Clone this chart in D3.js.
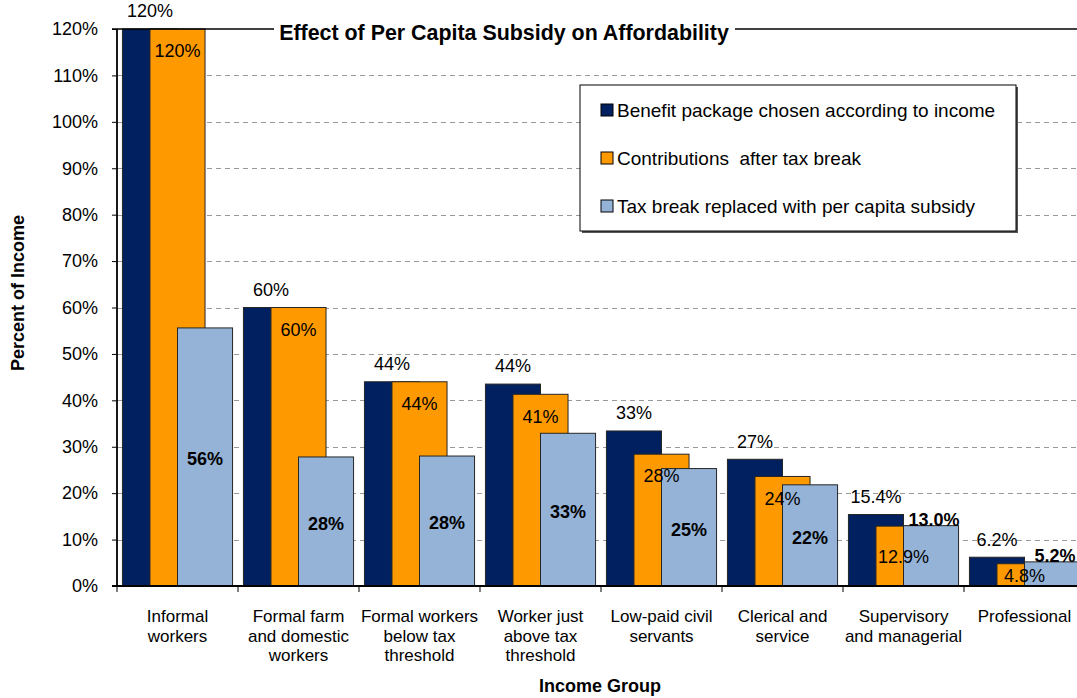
<!DOCTYPE html>
<html>
<head>
<meta charset="utf-8">
<script src="https://cdn.jsdelivr.net/npm/d3@7"></script>
<style>
    body { margin: 0; background: #fff; overflow: hidden; }
    svg text { font-family: "Liberation Sans", Arial, sans-serif; fill: #000; }
</style>
</head>
<body>
<div id="chart"></div>
<script>
/* Data */
var categories = [
    ["Informal", "workers"],
    ["Formal farm", "and domestic", "workers"],
    ["Formal workers", "below tax", "threshold"],
    ["Worker just", "above tax", "threshold"],
    ["Low-paid civil", "servants"],
    ["Clerical and", "service"],
    ["Supervisory", "and managerial"],
    ["Professional"]
];
var seriesNames = [
    "Benefit package chosen according to income",
    "Contributions  after tax break",
    "Tax break replaced with per capita subsidy"
];
var benefitPackage = [120, 60, 44, 43.5, 33.4, 27.3, 15.4, 6.2];
var afterTaxBreak  = [120, 60, 44, 41.3, 28.4, 23.6, 12.9, 4.8];
var perCapita      = [55.6, 27.8, 28, 32.9, 25.3, 21.8, 13.0, 5.2];
var labelDecimals  = [0, 0, 0, 0, 0, 0, 1, 1];
var yTicks = [0, 10, 20, 30, 40, 50, 60, 70, 80, 90, 100, 110, 120];

var colors = ["#002060", "#ff9900", "#95b3d7"];

var width = 1077,
    height = 698,
    margins = {top: 29, left: 117, bottom: 112, right: -8};

var svg = d3.select("#chart")
    .append("svg")
        .attr("width", width)
        .attr("height", height);

/* Scales */
var x = d3.scaleBand()
    .domain(d3.range(categories.length))
    .range([margins.left, width - margins.right]);
var y = d3.scaleLinear()
    .domain([0, 120])
    .range([height - margins.bottom, margins.top]);

var barWidth = x.bandwidth() * 0.455,
    barStep  = barWidth / 2,
    barPad   = (x.bandwidth() - barWidth * 2) / 2;

/* Gridlines */
svg.append("g")
    .selectAll("line")
    .data(yTicks.filter(function(d){ return d > 0 && d < 120; }))
    .enter()
    .append("line")
        .attr("x1", margins.left)
        .attr("x2", width)
        .attr("y1", function(d){ return Math.round(y(d)) + 0.5; })
        .attr("y2", function(d){ return Math.round(y(d)) + 0.5; })
        .attr("stroke", "#999")
        .attr("stroke-dasharray", "5,4");

/* Bars - later series drawn on top */
var series = [benefitPackage, afterTaxBreak, perCapita];
series.forEach(function(values, s){
    svg.append("g")
        .selectAll("rect")
        .data(values)
        .enter()
        .append("rect")
            .attr("x", function(d, i){ return x(i) + barPad + s * barStep; })
            .attr("y", function(d){ return y(d); })
            .attr("width", barWidth)
            .attr("height", function(d){ return y(0) - y(d); })
            .attr("fill", colors[s])
            .attr("stroke", "#262626")
            .attr("stroke-width", 1);
});

/* Axes */
var yAxis = d3.axisLeft(y)
    .tickValues(yTicks)
    .tickSize(5)
    .tickPadding(14)
    .tickFormat(function(d){ return d + "%"; });
var gy = svg.append("g")
    .attr("transform", "translate(" + margins.left + ",0)")
    .call(yAxis);
gy.select(".domain").remove();
gy.selectAll("text")
    .style("font-size", "18px");

svg.append("line")
    .attr("x1", margins.left).attr("x2", margins.left)
    .attr("y1", y(120)).attr("y2", y(0))
    .attr("stroke", "#000").attr("stroke-width", 1.8);
svg.append("line")
    .attr("x1", margins.left - 5).attr("x2", width)
    .attr("y1", y(0)).attr("y2", y(0))
    .attr("stroke", "#000").attr("stroke-width", 1.8);
svg.append("line")
    .attr("x1", margins.left - 5).attr("x2", width)
    .attr("y1", y(120)).attr("y2", y(120))
    .attr("stroke", "#000").attr("stroke-width", 1.5);

// category ticks at band edges
svg.append("g")
    .selectAll("line")
    .data(d3.range(categories.length + 1))
    .enter()
    .append("line")
        .attr("x1", function(i){ return margins.left + i * x.step(); })
        .attr("x2", function(i){ return margins.left + i * x.step(); })
        .attr("y1", y(0))
        .attr("y2", y(0) + 6)
        .attr("stroke", "#000");

// category labels
var catLabels = svg.append("g")
    .selectAll("text")
    .data(categories)
    .enter()
    .append("text")
        .attr("text-anchor", "middle")
        .style("font-size", "17px")
        .attr("transform", function(d, i){ return "translate(" + (x(i) + x.bandwidth() / 2) + "," + (y(0) + 36) + ")"; });
catLabels.selectAll("tspan")
    .data(function(d){ return d; })
    .enter()
    .append("tspan")
        .attr("x", 0)
        .attr("y", function(d, j){ return j * 19.5; })
        .text(function(d){ return d; });

/* Data labels */
function fmt(v, i){
    return v.toFixed(labelDecimals[i]) + "%";
}

// benefit package: above the bar
svg.append("g")
    .selectAll("text")
    .data(benefitPackage)
    .enter()
    .append("text")
        .attr("x", function(d, i){ return x(i) + barPad + barWidth / 2; })
        .attr("y", function(d){ return y(d) - 18; })
        .attr("dy", "0.35em")
        .attr("text-anchor", "middle")
        .style("font-size", "18px")
        .text(function(d, i){ return fmt(d, i); });

// after tax break: inside end, or centred for short bars
svg.append("g")
    .selectAll("text")
    .data(afterTaxBreak)
    .enter()
    .append("text")
        .attr("x", function(d, i){ return x(i) + barPad + barStep + barWidth / 2; })
        .attr("y", function(d){ return d >= 20 ? y(d) + 22 : (y(d) + y(0)) / 2 + 1; })
        .attr("dy", "0.35em")
        .attr("text-anchor", "middle")
        .style("font-size", "18px")
        .text(function(d, i){ return fmt(d, i); });

// per capita subsidy: bold, centred, or above short bars
svg.append("g")
    .selectAll("text")
    .data(perCapita)
    .enter()
    .append("text")
        .attr("x", function(d, i){ return x(i) + barPad + 2 * barStep + barWidth / 2 + (d >= 20 ? 0 : 3); })
        .attr("y", function(d){ return d >= 20 ? (y(d) + y(0)) / 2 + 2 : y(d) - 6; })
        .attr("dy", "0.35em")
        .attr("text-anchor", "middle")
        .style("font-size", "18px")
        .style("font-weight", "bold")
        .text(function(d, i){ return fmt(d, i); });

/* Legend */
var legend = svg.append("g")
    .attr("transform", "translate(580,85)");
legend.append("rect")
    .attr("x", 2).attr("y", 2)
    .attr("width", 436).attr("height", 146)
    .attr("fill", "#555");
legend.append("rect")
    .attr("x", 0).attr("y", 0)
    .attr("width", 436).attr("height", 146)
    .attr("fill", "#fff")
    .attr("stroke", "#000");
var items = legend.selectAll(".item")
    .data(seriesNames)
    .enter()
    .append("g")
        .attr("class", "item")
        .attr("transform", function(d, i){ return "translate(21," + (25 + i * 48) + ")"; });
items.append("rect")
    .attr("x", 0).attr("y", -6)
    .attr("width", 12).attr("height", 12)
    .attr("fill", function(d, i){ return colors[i]; })
    .attr("stroke", "#000");
items.append("text")
    .attr("x", 16)
    .attr("dy", "0.35em")
    .style("font-size", "19px")
    .style("white-space", "pre")
    .text(function(d){ return d; });

/* Title */
svg.append("rect")
    .attr("x", 274).attr("y", 14)
    .attr("width", 461).attr("height", 32)
    .attr("fill", "#fff");
svg.append("text")
    .attr("x", 504)
    .attr("y", 40)
    .attr("text-anchor", "middle")
    .style("font-size", "21.4px")
    .style("font-weight", "bold")
    .text("Effect of Per Capita Subsidy on Affordability");

/* Axis titles */
svg.append("text")
    .attr("transform", "translate(24,293) rotate(-90)")
    .attr("text-anchor", "middle")
    .style("font-size", "18px")
    .style("font-weight", "bold")
    .text("Percent of Income");
svg.append("text")
    .attr("x", 600)
    .attr("y", 692)
    .attr("text-anchor", "middle")
    .style("font-size", "18px")
    .style("font-weight", "bold")
    .text("Income Group");
</script>
</body>
</html>
